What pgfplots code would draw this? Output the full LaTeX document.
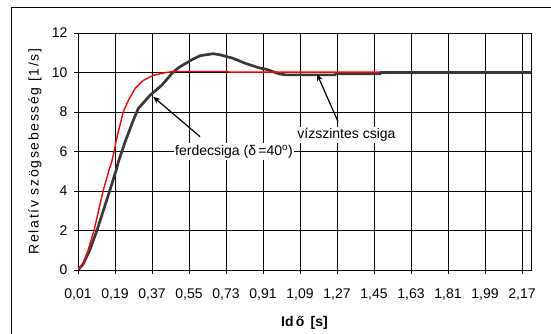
\documentclass[border=0pt]{standalone}
\usepackage{pgfplots}
\pgfplotsset{compat=1.18}
\usetikzlibrary{arrows.meta}
\usepackage{fontspec}
\setmainfont{Liberation Sans}
\begin{document}
\begin{tikzpicture}[x=1pt,y=1pt]
\path[use as bounding box] (0,0) rectangle (551,334);
\draw[line width=0.9pt] (11,0) -- (11,327) -- (551,327);
\begin{axis}[
  at={(78pt,64pt)}, anchor=south west, scale only axis,
  width=453pt, height=237pt,
  xmin=0.01, xmax=2.214, ymin=0, ymax=12,
  xtick={0.01,0.19,0.37,0.55,0.73,0.91,1.09,1.27,1.45,1.63,1.81,1.99,2.17},
  xticklabels={{0,01},{0,19},{0,37},{0,55},{0,73},{0,91},{1,09},{1,27},{1,45},{1,63},{1,81},{1,99},{2,17}},
  ytick={0,2,4,6,8,10,12},
  xtick pos=left, ytick pos=left,
  grid=major, major grid style={black, line width=0.7pt},
  axis line style={black, line width=0.7pt},
  tick style={black, line width=0.7pt}, tick align=outside, major tick length=4pt,
  font=\fontsize{14}{16}\selectfont,
  /pgf/number format/assume math mode=true,
  xticklabel style={yshift=-11pt},
  yticklabel style={xshift=-3pt},
  xlabel={\textbf{Id\,ő\, [s]}},
  ylabel={\addfontfeature{LetterSpace=12}Relatív szögsebesség [1/s]},
  xlabel style={at={(axis description cs:0.5,-0.225)}, anchor=center},
  ylabel style={at={(axis description cs:-0.095,0.5)}, anchor=center},
]
\addplot[black!78, line width=2.7pt] coordinates {
(0.01,0) (0.035,0.3) (0.067,1.0) (0.102,2.0) (0.133,3.0) (0.164,4.0) (0.196,5.06) (0.206,5.47)
(0.239,6.48) (0.279,7.58) (0.303,8.17) (0.360,8.84) (0.417,9.35) (0.466,9.94)
(0.50,10.25) (0.561,10.63) (0.604,10.85) (0.667,10.95) (0.70,10.9) (0.735,10.8)
(0.764,10.72) (0.82,10.48) (0.886,10.25) (0.93,10.15) (0.959,10.04) (0.99,9.93) (1.02,9.88)
(1.26,9.88) (1.265,9.94) (1.48,9.94) (1.485,10.0) (2.214,10.0)
};
\addplot[red, line width=1.4pt] coordinates {
(0.01,0) (0.035,0.35) (0.059,1.0) (0.088,2.0) (0.11,3.0) (0.132,4.0) (0.161,5.06) (0.174,5.47)
(0.185,5.97) (0.198,6.65) (0.214,7.33) (0.230,8.0) (0.255,8.59) (0.287,9.18) (0.328,9.6)
(0.376,9.86) (0.433,9.99) (0.474,10.05) (0.74,10.05) (0.745,10.02) (1.479,10.02)
};
\node[fill=white, inner sep=1.5pt] at (axis cs:0.769,5.99) {ferdecsiga (δ\,=40\textsuperscript{o})};
\draw[-{Stealth[length=7pt,width=6pt]}, line width=1.2pt] (axis cs:0.604,6.75) -- (axis cs:0.376,8.77);
\node[fill=white, inner sep=1.5pt] at (axis cs:1.316,6.84) {vízszintes csiga};
\draw[-{Stealth[length=7pt,width=6pt]}, line width=1.2pt] (axis cs:1.275,7.51) -- (axis cs:1.173,9.92);
\end{axis}
\end{tikzpicture}
\end{document}
